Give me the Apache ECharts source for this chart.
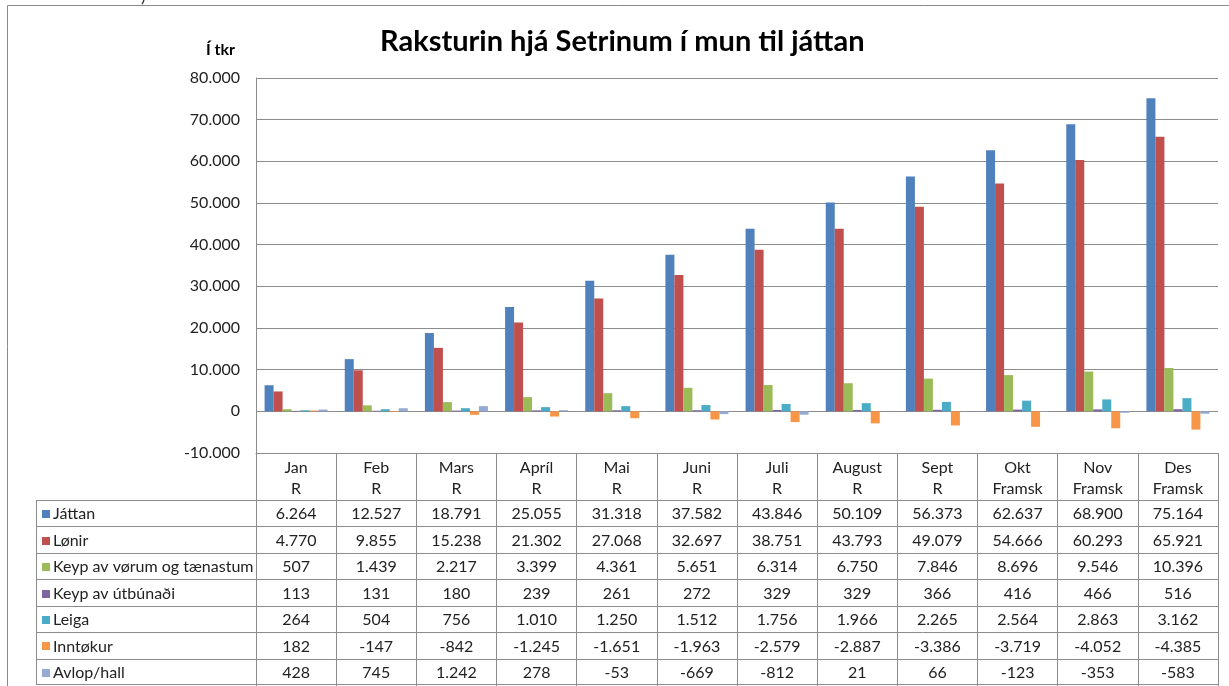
<!DOCTYPE html>
<html><head><meta charset="utf-8">
<script src="https://cdn.jsdelivr.net/npm/echarts@6/dist/echarts.min.js"></script>
<style>html,body{margin:0;padding:0;background:#fff}#c{width:1229px;height:686px}</style>
</head><body><div id="c"></div>
<script>
// ---------- DATA ----------
const categories = ['Jan\nR','Feb\nR','Mars\nR','Apríl\nR','Mai\nR','Juni\nR','Juli\nR','August\nR','Sept\nR','Okt\nFramsk','Nov\nFramsk','Des\nFramsk'];
const seriesNames = ['Játtan','Lønir','Keyp av vørum og tænastum','Keyp av útbúnaði','Leiga','Inntøkur','Avlop/hall'];
const jattan   = [6264,12527,18791,25055,31318,37582,43846,50109,56373,62637,68900,75164];
const lonir    = [4770,9855,15238,21302,27068,32697,38751,43793,49079,54666,60293,65921];
const keypVorum= [507,1439,2217,3399,4361,5651,6314,6750,7846,8696,9546,10396];
const keypUtb  = [113,131,180,239,261,272,329,329,366,416,466,516];
const leiga    = [264,504,756,1010,1250,1512,1756,1966,2265,2564,2863,3162];
const inntokur = [182,-147,-842,-1245,-1651,-1963,-2579,-2887,-3386,-3719,-4052,-4385];
const avlop    = [428,745,1242,278,-53,-669,-812,21,66,-123,-353,-583];
const yTicks   = [-10000,0,10000,20000,30000,40000,50000,60000,70000,80000];
const titleText = 'Raksturin hjá Setrinum í mun til játtan';
const yUnit = 'Í tkr';

// ---------- STYLE ----------
const allData = [jattan,lonir,keypVorum,keypUtb,leiga,inntokur,avlop];
const colors = ['#4F81BD','#C0504D','#9BBB59','#8064A2','#4BACC6','#F79646','#95ABD3'];
const FONT = 'Lato';
const FS = 16;
const lineCol = '#8c8c8c';
const gridL = 256, gridR = 11, gridT = 78, gridB = 233;
const tableLeft = 36, rowTop = 500, rowH = 26.43, tableRight = 1229 - gridR;

function fmt(v){
  const s = Math.abs(v).toString().replace(/\B(?=(\d{3})+(?!\d))/g,'.');
  return (v<0?'-':'') + s;
}

const chart = echarts.init(document.getElementById('c'), null, {renderer:'canvas'});

const series = seriesNames.map((n,i)=>({
  name:n, type:'bar', data: allData[i], barWidth: 9, barGap: '0%',
  itemStyle:{color: colors[i]}, animation:false
}));

chart.setOption({
  backgroundColor:'#fff',
  animation:false,
  color: colors,
  title:{
    text: titleText, left: 375, top: 22,
    textStyle:{fontFamily:FONT, fontWeight:'bold', fontSize:29, color:'#000'}
  },
  grid:{left:gridL, right:gridR, top:gridT, bottom:gridB, containLabel:false},
  xAxis:{
    type:'category', data: categories,
    axisLine:{onZero:false, lineStyle:{color:lineCol, width:1}},
    axisTick:{show:true, length: gridB, inside:false, lineStyle:{color:lineCol}},
    axisLabel:{fontFamily:FONT, fontSize:FS, color:'#222', lineHeight:21, margin:4, interval:0},
    splitLine:{show:false}
  },
  yAxis:{
    type:'value', min: yTicks[0], max: yTicks[yTicks.length-1], interval: yTicks[1]-yTicks[0],
    name: yUnit, nameLocation:'end', nameGap: 20,
    nameTextStyle:{fontFamily:FONT, fontWeight:'bold', fontSize:16, color:'#000', align:'right', padding:[0,21,0,0]},
    axisLine:{show:true, lineStyle:{color:lineCol}},
    axisTick:{show:false},
    axisLabel:{fontFamily:FONT, fontSize:FS, color:'#222', margin:16, formatter: v=>fmt(v)},
    splitLine:{show:true, lineStyle:{color:lineCol, width:1}}
  },
  series
});

// ---------- TABLE ----------
function buildTable(){
  const g = [];
  g.push({type:'rect', shape:{x:7.5,y:5.5,width:1400,height:1000}, style:{fill:null, stroke:'#8a8a8a', lineWidth:1}, silent:true});
  g.push({type:'text', x:141, y:-13, silent:true, style:{text:')', fontFamily:FONT, fontSize:18, fill:'#333'}});
  for(let r=0;r<=seriesNames.length;r++){
    const y = Math.min(Math.round(rowTop + r*rowH), 684)+0.5;
    g.push({type:'line', shape:{x1:tableLeft, y1:y, x2:tableRight, y2:y}, style:{stroke:lineCol, lineWidth:1}, silent:true});
  }
  const yEnd = 684.5;
  g.push({type:'line', shape:{x1:tableLeft+0.5, y1:rowTop+0.5, x2:tableLeft+0.5, y2:yEnd}, style:{stroke:lineCol, lineWidth:1}, silent:true});
  g.push({type:'line', shape:{x1:gridL+0.5, y1:686-gridB, x2:gridL+0.5, y2:yEnd}, style:{stroke:lineCol, lineWidth:1}, silent:true});
  allData.forEach((arr, r)=>{
    const cy = rowTop + (r+0.5)*rowH + 1;
    g.push({type:'rect', shape:{x:tableLeft+6, y:Math.round(cy-4), width:8, height:8}, style:{fill:colors[r]}, silent:true});
    g.push({type:'text', x:tableLeft+17, y:cy, silent:true,
      style:{text: seriesNames[r], fontFamily:FONT, fontSize:FS, fill:'#222', align:'left', verticalAlign:'middle'}});
    arr.forEach((v,c)=>{
      const cx = chart.convertToPixel({xAxisIndex:0}, c);
      g.push({type:'text', x:cx, y:cy, silent:true,
        style:{text: fmt(v), fontFamily:FONT, fontSize:FS, fill:'#222', align:'center', verticalAlign:'middle'}});
    });
  });
  chart.setOption({graphic: g});
}
buildTable();
</script>
</body></html>
